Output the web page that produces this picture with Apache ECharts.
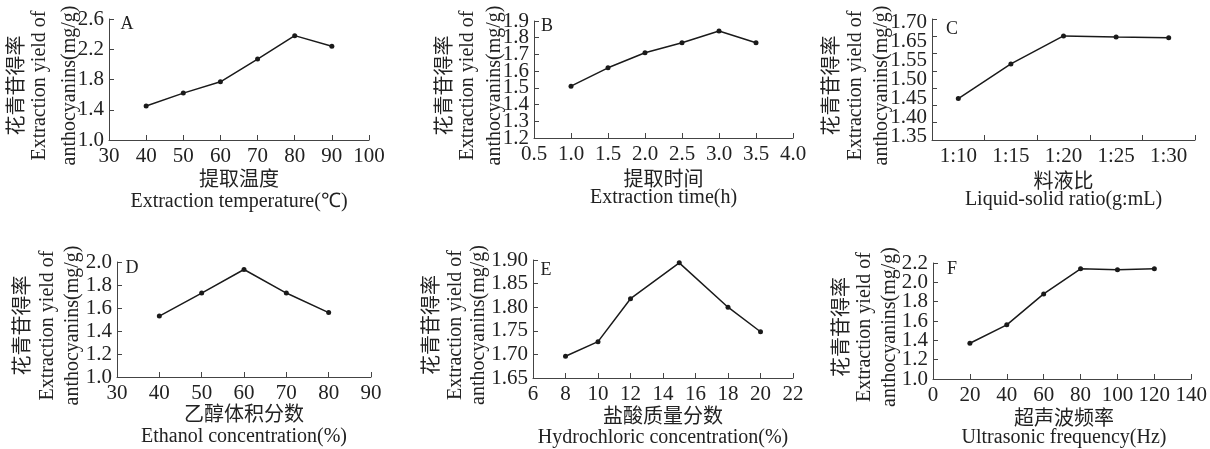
<!DOCTYPE html>
<html><head><meta charset="utf-8">
<script src="https://cdn.jsdelivr.net/npm/echarts@6/dist/echarts.min.js"></script>
<style>html,body{margin:0;padding:0;background:#fff}#c{width:1210px;height:449px}</style>
</head><body><div id="c"></div>
<script>
// ---- data ----
const xA = [40, 50, 60, 70, 80, 90];
const yA = [1.45, 1.62, 1.77, 2.07, 2.38, 2.24];
const xB = [1.0, 1.5, 2.0, 2.5, 3.0, 3.5];
const yB = [1.51, 1.62, 1.71, 1.77, 1.84, 1.77];
const catC = ['1:10', '1:15', '1:20', '1:25', '1:30'];
const yC = [1.47, 1.57, 1.651, 1.648, 1.646];
const xD = [40, 50, 60, 70, 80];
const yD = [1.53, 1.73, 1.935, 1.73, 1.56];
const xE = [8, 10, 12, 15, 18, 20];
const yE = [1.696, 1.727, 1.818, 1.894, 1.80, 1.748];
const xF = [20, 40, 60, 80, 100, 120];
const yF = [1.37, 1.56, 1.88, 2.14, 2.13, 2.14];
// printed y tick labels (bottom to top)
const yTicksA = ['1.0', '1.4', '1.8', '2.2', '2.6'];
const yTicksB = ['1.2', '1.3', '1.4', '1.5', '1.6', '1.7', '1.8', '1.9'];
const yTicksC = ['1.35', '1.40', '1.45', '1.50', '1.55', '1.65', '1.70'];
const yTicksD = ['1.0', '1.2', '1.4', '1.6', '1.8', '2.0'];
const yTicksE = ['1.65', '1.70', '1.75', '1.80', '1.85', '1.90'];
const yTicksF = ['1.0', '1.2', '1.4', '1.6', '1.8', '2.0', '2.2'];
const letters = ['A', 'B', 'C', 'D', 'E', 'F'];
const yTitleCN = '花青苷得率';
const yTitleEN1 = 'Extraction yield of';
const yTitleEN2 = 'anthocyanins(mg/g)';
const xTitlesCN = ['提取温度', '提取时间', '料液比', '乙醇体积分数', '盐酸质量分数', '超声波频率'];
const xTitlesEN = ['Extraction temperature(℃)', 'Extraction time(h)', 'Liquid-solid ratio(g:mL)',
  'Ethanol concentration(%)', 'Hydrochloric concentration(%)', 'Ultrasonic frequency(Hz)'];

// ---- layout ----
const SERIF = '"Liberation Serif","Times New Roman",serif';
const CJK = '"Noto Sans CJK SC",sans-serif';
const AX = '#444', LINE = '#1a1a1a', TXT = '#222';
const TICKFONT = 21;
const grids = [
  {left:109, top:19, width:260, height:121},
  {left:534, top:21, width:259, height:117},
  {left:932, top:19, width:263, height:121},
  {left:117, top:262, width:254, height:115},
  {left:533, top:260, width:260, height:118},
  {left:933, top:263, width:262, height:116}
];
const yTitleX = [[15.8,39.5,69.5],[443,467.5,495],[830,855.5,881.5],[21.7,47.5,72.5],[430,455.5,478.5],[840,865,889.5]];
const xTitleY = [[178,202],[178,198],[180,200],[413,437],[415,438],[417,438]];
const letterPos = [[127,24],[547,26],[952,29],[132,268],[546,270],[952,269]];

const xRanges = [[30,100,10,0],[0.5,4.0,0.5,1],null,[30,90,10,0],[6,22,2,0],[0,140,20,0]];
const yRanges = [[1.0,2.6,0.4],[1.2,1.9,0.1],[1.35,1.70,0.05],[1.0,2.0,0.2],[1.65,1.90,0.05],[1.0,2.2,0.2]];
const xs = [xA, xB, null, xD, xE, xF];
const ys = [yA, yB, yC, yD, yE, yF];
const yTicks = [yTicksA, yTicksB, yTicksC, yTicksD, yTicksE, yTicksF];

const lbl = {fontFamily: SERIF, fontSize: TICKFONT, color: TXT};
const xAxis = [], yAxis = [], series = [], graphic = [];

for (let i = 0; i < 6; i++) {
  const common = {
    gridIndex: i,
    axisLine: {show: true, onZero: false, lineStyle: {color: AX, width: 1}},
    axisTick: {show: true, inside: true, length: 5, lineStyle: {color: AX}},
    splitLine: {show: false}
  };
  if (i === 2) {
    xAxis.push(Object.assign({}, common, {
      type: 'category', data: catC, boundaryGap: true,
      axisTick: {show: true, inside: true, length: 5, alignWithLabel: false, interval: 0, lineStyle: {color: AX}},
      axisLabel: Object.assign({margin: 6, interval: 0}, lbl)
    }));
  } else {
    const r = xRanges[i];
    xAxis.push(Object.assign({}, common, {
      type: 'value', min: r[0], max: r[1], interval: r[2],
      axisLabel: Object.assign({margin: 6, showMinLabel: true, showMaxLabel: true,
        formatter: v => Number(v).toFixed(r[3])}, lbl)
    }));
  }
  const yr = yRanges[i];
  yAxis.push(Object.assign({}, common, {
    type: 'value', min: yr[0], max: yr[1], interval: yr[2],
    axisLabel: {show: false}
  }));
  const data = i === 2 ? ys[i] : xs[i].map((x, k) => [x, ys[i][k]]);
  series.push({
    type: 'line', xAxisIndex: i, yAxisIndex: i, data: data,
    symbol: 'circle', symbolSize: 5, showSymbol: true,
    lineStyle: {color: LINE, width: 1.5}, itemStyle: {color: LINE},
    silent: true
  });
  const g = grids[i];
  const cy = g.top + g.height / 2 + 6;
  const cx = g.left + g.width / 2;
  const ytexts = [[yTitleCN, CJK], [yTitleEN1, SERIF], [yTitleEN2, SERIF]];
  ytexts.forEach((t, k) => {
    graphic.push({type: 'text', x: yTitleX[i][k], y: cy, rotation: Math.PI / 2,
      style: {text: t[0], font: '20px ' + t[1], fill: TXT, textAlign: 'center', textVerticalAlign: 'middle'}});
  });
  graphic.push({type: 'text', x: cx, y: xTitleY[i][0],
    style: {text: xTitlesCN[i], font: '20px ' + CJK, fill: TXT, textAlign: 'center', textVerticalAlign: 'middle'}});
  graphic.push({type: 'text', x: cx, y: xTitleY[i][1],
    style: {text: xTitlesEN[i], font: '20px ' + SERIF, fill: TXT, textAlign: 'center', textVerticalAlign: 'middle'}});
  graphic.push({type: 'text', x: letterPos[i][0], y: letterPos[i][1],
    style: {text: letters[i], font: '18px ' + SERIF, fill: TXT, textAlign: 'center', textVerticalAlign: 'middle'}});
}

const chart = echarts.init(document.getElementById('c'), null, {renderer: 'canvas'});
chart.setOption({
  animation: false,
  backgroundColor: '#fff',
  grid: grids.map(g => Object.assign({containLabel: false}, g)),
  xAxis: xAxis, yAxis: yAxis, series: series, graphic: graphic
});

// y tick labels placed through the axis scale (all labels kept, as printed)
const labelGraphics = [];
for (let i = 0; i < 6; i++) {
  const labels = yTicks[i];
  const yr = yRanges[i];
  const xRef = i === 2 ? 0 : xRanges[i][0];
  const pBot = chart.convertToPixel({gridIndex: i}, [xRef, yr[0]]);
  const pTop = chart.convertToPixel({gridIndex: i}, [xRef, yr[1]]);
  const lx = grids[i].left - 5;
  labels.forEach((t, k) => {
    let py;
    if (i === 2) {
      // the original figure prints 7 labels spread evenly along the axis
      const f = 0.025 + 0.95 * k / (labels.length - 1);
      py = pBot[1] + (pTop[1] - pBot[1]) * f;
    } else {
      py = chart.convertToPixel({gridIndex: i}, [xRef, parseFloat(t)])[1];
    }
    labelGraphics.push({type: 'text', x: lx, y: py,
      style: {text: t, font: TICKFONT + 'px ' + SERIF, fill: TXT, textAlign: 'right', textVerticalAlign: 'middle'}});
  });
}
chart.setOption({graphic: graphic.concat(labelGraphics)});
</script></body></html>
